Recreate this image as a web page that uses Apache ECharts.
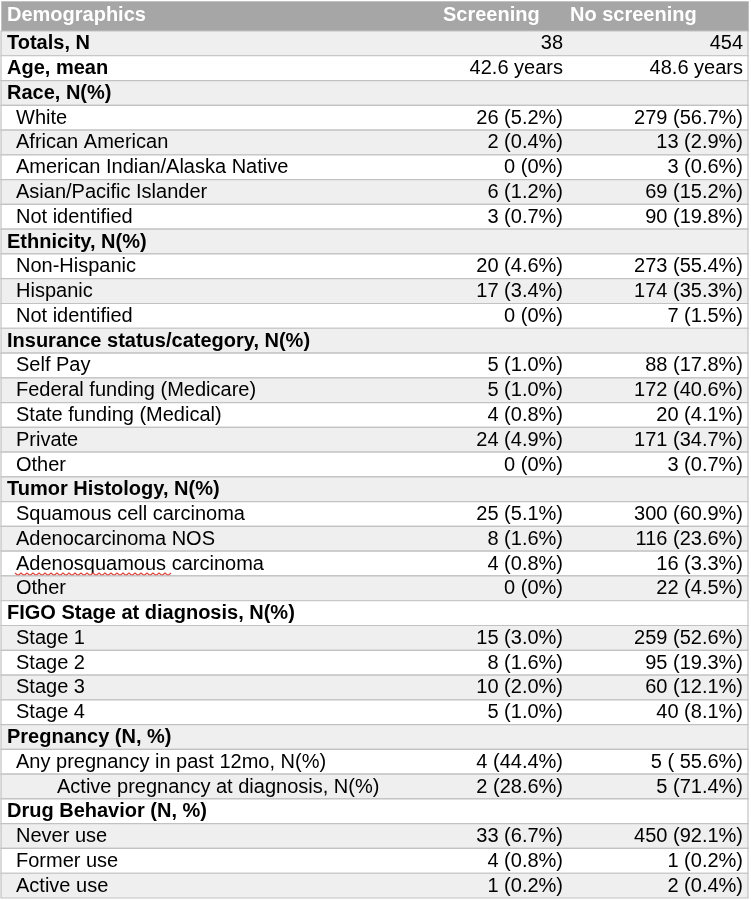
<!DOCTYPE html>
<html>
<head>
<meta charset="utf-8">
<script src="https://cdn.jsdelivr.net/npm/echarts@6/dist/echarts.min.js"></script>
<style>
html,body{margin:0;padding:0;background:#fff;}
#chart{width:751px;height:900px;}
</style>
</head>
<body>
<div id="chart"></div>
<script>
// ---- Data ----
const headers = ["Demographics", "Screening", "No screening"];

const rowLabels = [
  "Totals, N", "Age, mean",
  "Race, N(%)", "White", "African American", "American Indian/Alaska Native", "Asian/Pacific Islander", "Not identified",
  "Ethnicity, N(%)", "Non-Hispanic", "Hispanic", "Not identified",
  "Insurance status/category, N(%)", "Self Pay", "Federal funding (Medicare)", "State funding (Medical)", "Private", "Other",
  "Tumor Histology, N(%)", "Squamous cell carcinoma", "Adenocarcinoma NOS", "Adenosquamous carcinoma", "Other",
  "FIGO Stage at diagnosis, N(%)", "Stage 1", "Stage 2", "Stage 3", "Stage 4",
  "Pregnancy (N, %)", "Any pregnancy in past 12mo, N(%)", "Active pregnancy at diagnosis, N(%)",
  "Drug Behavior (N, %)", "Never use", "Former use", "Active use"
];

// 0 = section (bold), 1 = item, 2 = sub-item
const rowLevels = [
  0, 0,
  0, 1, 1, 1, 1, 1,
  0, 1, 1, 1,
  0, 1, 1, 1, 1, 1,
  0, 1, 1, 1, 1,
  0, 1, 1, 1, 1,
  0, 1, 2,
  0, 1, 1, 1
];

const screening = [
  "38", "42.6 years",
  "", "26 (5.2%)", "2 (0.4%)", "0 (0%)", "6 (1.2%)", "3 (0.7%)",
  "", "20 (4.6%)", "17 (3.4%)", "0 (0%)",
  "", "5 (1.0%)", "5 (1.0%)", "4 (0.8%)", "24 (4.9%)", "0 (0%)",
  "", "25 (5.1%)", "8 (1.6%)", "4 (0.8%)", "0 (0%)",
  "", "15 (3.0%)", "8 (1.6%)", "10 (2.0%)", "5 (1.0%)",
  "", "4 (44.4%)", "2 (28.6%)",
  "", "33 (6.7%)", "4 (0.8%)", "1 (0.2%)"
];

const noScreening = [
  "454", "48.6 years",
  "", "279 (56.7%)", "13 (2.9%)", "3 (0.6%)", "69 (15.2%)", "90 (19.8%)",
  "", "273 (55.4%)", "174 (35.3%)", "7 (1.5%)",
  "", "88 (17.8%)", "172 (40.6%)", "20 (4.1%)", "171 (34.7%)", "3 (0.7%)",
  "", "300 (60.9%)", "116 (23.6%)", "16 (3.3%)", "22 (4.5%)",
  "", "259 (52.6%)", "95 (19.3%)", "60 (12.1%)", "40 (8.1%)",
  "", "5 ( 55.6%)", "5 (71.4%)",
  "", "450 (92.1%)", "1 (0.2%)", "2 (0.4%)"
];

// ---- Layout (positions/styles) ----
const FONT = '"Liberation Sans", Arial, Helvetica, sans-serif';
const X_MAX = 747;
const COL_SCREEN_RIGHT = 562;
const COL_NOSCREEN_RIGHT = 742;
const INDENT = [6, 15, 56];

const chart = echarts.init(document.getElementById('chart'), null, {renderer: 'canvas'});

function renderRow(params, api) {
  const idx = api.value(1);
  const c = api.coord([0, idx]);
  const cr = api.coord([X_MAX, idx]);
  const h = api.size([0, 1])[1];
  const x0 = c[0], x1 = cr[0], y = c[1];
  const level = rowLevels[idx];
  const bold = level === 0;
  const children = [
    {
      type: 'rect',
      shape: {x: x0, y: y - h / 2, width: x1 - x0, height: h},
      style: {fill: idx % 2 === 0 ? '#efefef' : '#ffffff', stroke: '#c2c2c2', lineWidth: 1.2}
    },
    {
      type: 'text',
      x: api.coord([INDENT[level], idx])[0], y: y + 0.5,
      style: {
        text: rowLabels[idx], fill: '#000', fontSize: 20, fontWeight: bold ? 'bold' : 'normal',
        fontFamily: FONT, align: 'left', verticalAlign: 'middle', textAlign: 'left', textVerticalAlign: 'middle'
      }
    },
    {
      type: 'text',
      x: api.coord([COL_SCREEN_RIGHT, idx])[0], y: y + 0.5,
      style: {
        text: screening[idx], fill: '#000', fontSize: 20, fontFamily: FONT,
        align: 'right', verticalAlign: 'middle', textAlign: 'right', textVerticalAlign: 'middle'
      }
    },
    {
      type: 'text',
      x: api.coord([COL_NOSCREEN_RIGHT, idx])[0], y: y + 0.5,
      style: {
        text: noScreening[idx], fill: '#000', fontSize: 20, fontFamily: FONT,
        align: 'right', verticalAlign: 'middle', textAlign: 'right', textVerticalAlign: 'middle'
      }
    }
  ];
  // spell-check squiggle under "Adenosquamous"
  if (rowLabels[idx].indexOf('Adenosquamous') === 0) {
    const sx = api.coord([INDENT[level] - 1, idx])[0];
    const pts = [];
    for (let i = 0; i <= 52; i++) {
      pts.push([sx + i * 3, y + 9.5 + (i % 2 === 0 ? 0 : 2.5)]);
    }
    children.push({
      type: 'polyline',
      shape: {points: pts},
      style: {stroke: '#e0413a', lineWidth: 1.2, fill: null}
    });
  }
  return {type: 'group', children: children};
}

const option = {
  animation: false,
  backgroundColor: '#ffffff',
  grid: {left: 1, right: 751 - 748, top: 31, bottom: 2, containLabel: false},
  xAxis: {type: 'value', min: 0, max: X_MAX, show: false},
  yAxis: {type: 'category', data: rowLabels, inverse: true, show: false},
  graphic: [
    {
      type: 'rect', left: 1, top: 1,
      shape: {x: 0, y: 0, width: 747, height: 30},
      style: {fill: '#a6a6a6', stroke: '#c2c2c2', lineWidth: 1}
    },
    {
      type: 'text', left: 7, top: 5,
      style: {text: headers[0], fill: '#ffffff', fontSize: 20, fontWeight: 'bold', fontFamily: FONT}
    },
    {
      type: 'text', left: 443, top: 5,
      style: {text: headers[1], fill: '#ffffff', fontSize: 20, fontWeight: 'bold', fontFamily: FONT}
    },
    {
      type: 'text', left: 570, top: 5,
      style: {text: headers[2], fill: '#ffffff', fontSize: 20, fontWeight: 'bold', fontFamily: FONT}
    }
  ],
  series: [{
    type: 'custom',
    renderItem: renderRow,
    encode: {x: 0, y: 1},
    data: rowLabels.map((_, i) => [0, i]),
    clip: false
  }]
};

chart.setOption(option);
</script>
</body>
</html>
